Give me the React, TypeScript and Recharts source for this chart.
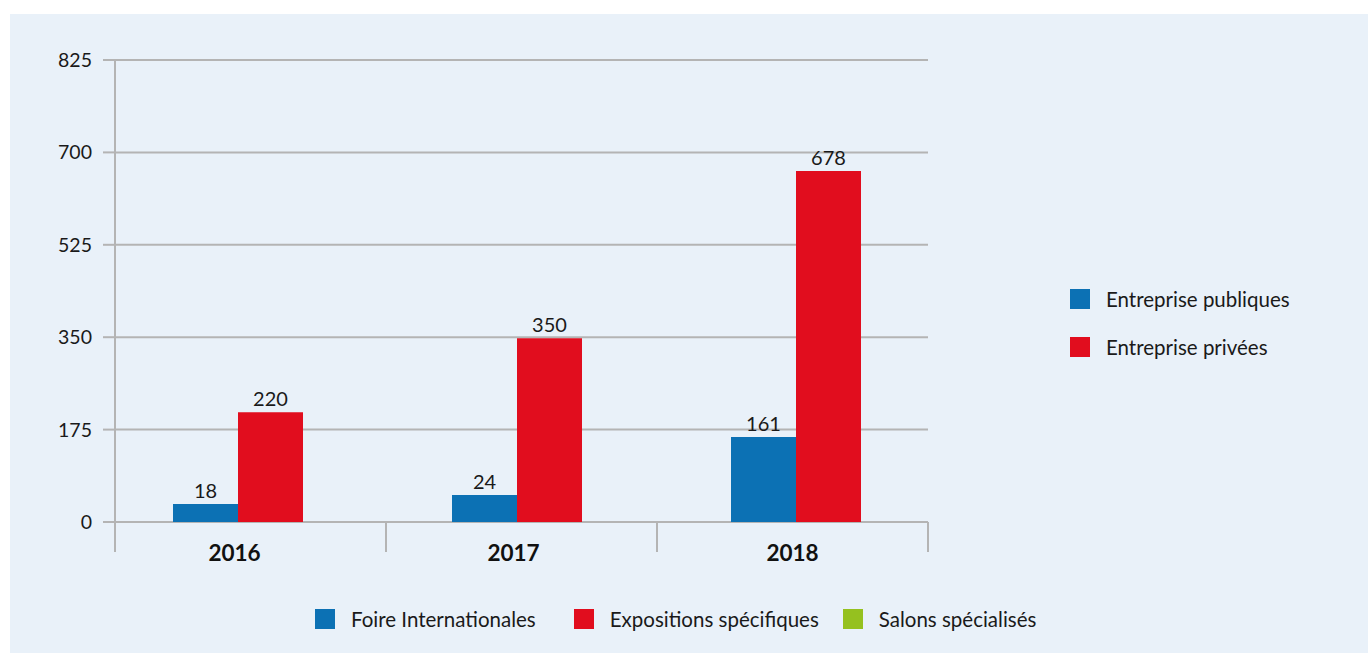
import React from "react";
import { BarChart, Bar, XAxis, YAxis, CartesianGrid, LabelList } from "recharts";

// bar heights as drawn, and the numbers printed above them
const years = ["2016", "2017", "2018"];
const publiques = [34, 51, 161];
const privees = [208, 348, 665];
const publiquesLabels = ["18", "24", "161"];
const priveesLabels = ["220", "350", "678"];

const yTicks = [0, 175, 350, 525, 700, 875];
const yTickLabels = ["0", "175", "350", "525", "700", "825"];

const sideLegend = [
  { name: "Entreprise publiques", color: "#0c71b4" },
  { name: "Entreprise privées", color: "#e10d1e" },
];
const bottomLegend = [
  { name: "Foire Internationales", color: "#0c71b4" },
  { name: "Expositions spécifiques", color: "#e10d1e" },
  { name: "Salons spécialisés", color: "#95c11f" },
];
const bottomGaps = [38, 24, 0];

const data = years.map((year, i) => ({
  year,
  publiques: publiques[i],
  privees: privees[i],
  pubLabel: publiquesLabels[i],
  privLabel: priveesLabels[i],
}));

const W = 1358;
const H = 639;
const PLOT_LEFT = 105;
const PLOT_RIGHT = 918;
const PLOT_BOTTOM = 508;
const FONT = "Lato, 'Open Sans', sans-serif";
const TEXT = "#1a1a1a";

function YearTick(props: any) {
  const { x, index, payload } = props;
  const step = (PLOT_RIGHT - PLOT_LEFT) / years.length;
  const left = PLOT_LEFT + index * step;
  return (
    <g>
      <line x1={left} x2={left} y1={PLOT_BOTTOM} y2={PLOT_BOTTOM + 30} stroke="#b4b4b4" strokeWidth={2} />
      {index === years.length - 1 && (
        <line x1={left + step} x2={left + step} y1={PLOT_BOTTOM} y2={PLOT_BOTTOM + 30} stroke="#b4b4b4" strokeWidth={2} />
      )}
      <text
        x={x - 3}
        y={PLOT_BOTTOM + 30}
        textAnchor="middle"
        dominantBaseline="central"
        fontFamily={FONT}
        fontWeight={700}
        fontSize={22.5}
        fill="#111"
      >
        {payload.value}
      </text>
    </g>
  );
}

export default function App() {
  return (
    <div
      style={{
        position: "absolute",
        left: 10,
        top: 14,
        width: W,
        height: H,
        background: "#e9f1f9",
        fontFamily: FONT,
      }}
    >
      <BarChart
        width={W}
        height={H}
        data={data}
        barSize={65}
        barGap={0}
        margin={{ top: 46, left: 45, right: W - PLOT_RIGHT, bottom: H - PLOT_BOTTOM - 40 }}
      >
        <CartesianGrid vertical={false} stroke="#b4b4b4" strokeWidth={2} />
        <XAxis
          dataKey="year"
          height={40}
          axisLine={false}
          tickLine={false}
          padding={{ left: -17, right: -7 }}
          tick={<YearTick />}
          interval={0}
        />
        <YAxis
          width={60}
          domain={[0, 875]}
          ticks={yTicks}
          interval={0}
          tickFormatter={(v: number) => yTickLabels[yTicks.indexOf(v)]}
          axisLine={{ stroke: "#b4b4b4", strokeWidth: 2 }}
          tickLine={{ stroke: "#b4b4b4", strokeWidth: 2 }}
          tickSize={12}
          tickMargin={11}
          tick={{ fill: TEXT, fontSize: 19.5, fontFamily: FONT }}
        />
        <Bar dataKey="publiques" fill="#0c71b4" isAnimationActive={false}>
          <LabelList dataKey="pubLabel" position="top" offset={6} fill={TEXT} fontSize={20} fontFamily={FONT} />
        </Bar>
        <Bar dataKey="privees" fill="#e10d1e" isAnimationActive={false}>
          <LabelList dataKey="privLabel" position="top" offset={6} fill={TEXT} fontSize={20} fontFamily={FONT} />
        </Bar>
      </BarChart>

      <div style={{ position: "absolute", left: 1060, top: 261 }}>
        {sideLegend.map((item) => (
          <div key={item.name} style={{ display: "flex", alignItems: "center", height: 48 }}>
            <div style={{ width: 20, height: 20, background: item.color, marginRight: 16 }} />
            <span style={{ fontSize: 20.5, color: TEXT }}>{item.name}</span>
          </div>
        ))}
      </div>

      <div style={{ position: "absolute", left: 305, top: 590, display: "flex", alignItems: "center", height: 30 }}>
        {bottomLegend.map((item, i) => (
          <div key={item.name} style={{ display: "flex", alignItems: "center", marginRight: bottomGaps[i] }}>
            <div style={{ width: 20, height: 20, background: item.color, marginRight: 16 }} />
            <span style={{ fontSize: 20.5, color: TEXT }}>{item.name}</span>
          </div>
        ))}
      </div>
    </div>
  );
}
